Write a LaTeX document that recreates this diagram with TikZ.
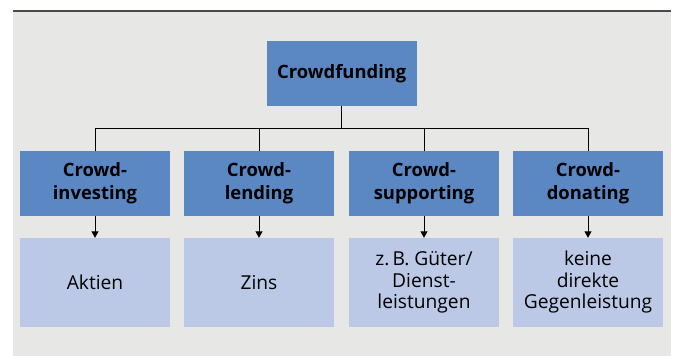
\documentclass[tikz,border=0pt]{standalone}
\usepackage{fontspec}
\setmainfont{Open Sans}
\usetikzlibrary{arrows.meta}
\definecolor{bgray}{HTML}{E7E7E5}
\definecolor{dblue}{HTML}{5B87C3}
\definecolor{lblue}{HTML}{BBC9E6}
\definecolor{rule}{HTML}{4A4A4A}
\tikzset{
  topbox/.style={fill=dblue, draw=none, inner sep=0pt, minimum width=150pt, minimum height=64.7pt, align=center, font=\fontsize{18.4}{22.7}\selectfont\bfseries},
  midbox/.style={fill=dblue, draw=none, inner sep=0pt, minimum width=150pt, minimum height=65pt, align=center, font=\fontsize{18.4}{22.7}\selectfont\bfseries},
  lowbox/.style={fill=lblue, draw=none, inner sep=0pt, minimum width=150pt, minimum height=89pt, align=center, font=\fontsize{19.2}{21.5}\selectfont},
  conn/.style={draw=black, line width=1pt},
  arr/.style={conn, -{Triangle[length=6.5pt,width=7pt]}}
}
\begin{document}
\begin{tikzpicture}[x=1pt,y=-1pt]
\useasboundingbox (0,0) rectangle (673,356);
\fill[bgray] (13,11.5) rectangle (671,356);
\draw[rule, line width=1.4pt] (13,11) -- (671,11);

\node[topbox] (cf) at (341.8,73.3) {Crowdfunding};

\node[midbox] (a1) at (95,183.5) {Crowd-\\investing};
\node[midbox] (a2) at (259,183.5) {Crowd-\\lending};
\node[midbox] (a3) at (424,183.5) {Crowd-\\supporting};
\node[midbox] (a4) at (588,183.5) {Crowd-\\donating};

\node[lowbox] (b1) at (95,282.5) {Aktien};
\node[lowbox] (b2) at (259,282.5) {Zins};
\node[lowbox] (b3) at (424,282.5) {z.\,B. Güter/\\Dienst-\\leistungen};
\node[lowbox] (b4) at (588,282.5) {keine\\direkte\\Gegenleistung};

\coordinate (bus) at (0,128.3);
\draw[conn] (cf.south) -- (cf.south |- bus);
\draw[conn] (a1.north) -- (a1.north |- bus) -- (a4.north |- bus) -- (a4.north);
\draw[conn] (a2.north |- bus) -- (a2.north);
\draw[conn] (a3.north |- bus) -- (a3.north);

\draw[arr] (a1.south) -- (b1.north);
\draw[arr] (a2.south) -- (b2.north);
\draw[arr] (a3.south) -- (b3.north);
\draw[arr] (a4.south) -- (b4.north);
\end{tikzpicture}
\end{document}
